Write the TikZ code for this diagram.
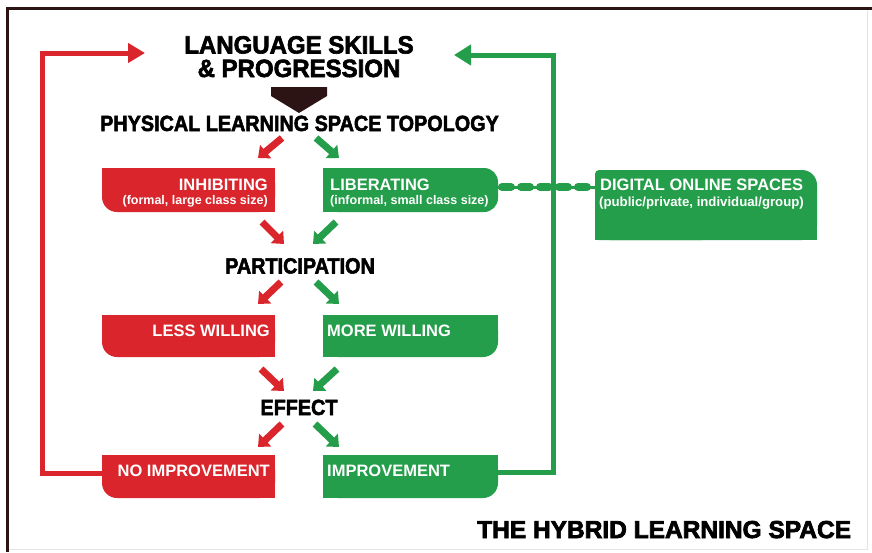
\documentclass[tikz,border=0pt]{standalone}
\usepackage{fontspec}
\setmainfont{Liberation Sans}
\newfontfamily\headfont[FakeBold=2.4,FakeStretch=0.9]{Liberation Sans}
\newfontfamily\titlefont[FakeBold=2.4,FakeStretch=0.96]{Liberation Sans}
\newfontfamily\hybridfont[FakeBold=3]{Liberation Sans}
\usetikzlibrary{arrows.meta}
\definecolor{redc}{RGB}{218,37,44}
\definecolor{greenc}{RGB}{36,158,74}
\definecolor{brownc}{RGB}{45,20,20}
\definecolor{framegray}{RGB}{228,228,228}
\tikzset{
  box/.style={inner sep=0pt, outer sep=0pt, minimum width=#1},
  headtxt/.style={inner sep=0pt, text=white, font=\bfseries\fontsize{16.5}{19}\selectfont},
  subtxt/.style={inner sep=0pt, text=white, font=\bfseries\fontsize{12.5}{15}\selectfont},
  bigtxt/.style={inner sep=0pt, font=\headfont\bfseries\fontsize{22}{26}\selectfont},
  titletxt/.style={inner sep=0pt, font=\titlefont\bfseries\fontsize{25}{29}\selectfont},
  hybridtxt/.style={inner sep=0pt, font=\hybridfont\bfseries\fontsize{24.5}{28}\selectfont},
  blockred/.style={draw=redc, line width=7pt, -{Triangle[length=10pt,width=17pt]}},
  blockgreen/.style={draw=greenc, line width=7pt, -{Triangle[length=10pt,width=17pt]}},
  loopred/.style={draw=redc, line width=5pt, line join=miter, -{Triangle[length=17pt,width=19pt]}},
  loopgreen/.style={draw=greenc, line width=5pt, line join=miter, -{Triangle[length=17pt,width=20pt]}},
}
\begin{document}
\begin{tikzpicture}[x=1pt,y=-1pt]
\useasboundingbox (0,0) rectangle (872,552);
\fill[white] (0,0) rectangle (872,552);
% frame
\draw[framegray, line width=1.2pt] (867.5,8.5) -- (867.5,549.5) -- (7.5,549.5);
\draw[brownc, line width=3pt, line join=miter] (7.5,552) -- (7.5,8.5) -- (872,8.5);

% box nodes
\node[box=173pt, minimum height=44pt] (inh) at (188.5,190) {};
\node[box=175pt, minimum height=44pt] (lib) at (410.5,190) {};
\node[box=222pt, minimum height=70pt] (dig) at (706,205) {};
\node[box=173pt, minimum height=42pt] (less) at (188.5,336) {};
\node[box=175pt, minimum height=42pt] (more) at (410.5,336) {};
\node[box=173pt, minimum height=43pt] (noimp) at (188.5,476.5) {};
\node[box=175pt, minimum height=43pt] (imp) at (410.5,476.5) {};

% fills: red boxes, only bottom-left corner rounded
\foreach \b in {inh,less,noimp}{
  \fill[redc, rounded corners=15pt] (\b.north west) rectangle (\b.south east);
  \fill[redc] (\b.north west) rectangle (\b.east);
  \fill[redc] (\b.north) rectangle (\b.south east);
}
% liberating: right side rounded
\fill[greenc, rounded corners=14pt] (lib.north west) rectangle (lib.south east);
\fill[greenc] (lib.north west) rectangle (lib.south);
% more / improvement: bottom-right rounded
\foreach \b in {more,imp}{
  \fill[greenc, rounded corners=15pt] (\b.north west) rectangle (\b.south east);
  \fill[greenc] (\b.north west) rectangle (\b.east);
  \fill[greenc] (\b.north west) rectangle (\b.south);
}
% digital: top corners rounded
\fill[greenc, rounded corners=15pt] (dig.north west) rectangle (dig.south east);
\fill[greenc, rounded corners=4pt] (dig.north west) rectangle (dig.south);
\fill[greenc] (dig.west) rectangle (dig.south east);

% box texts
\node[headtxt, anchor=base east] (inhT) at (268,190) {INHIBITING};
\node[subtxt, anchor=base east] (inhS) at (268,204) {(formal, large class size)};
\node[headtxt, anchor=base west] (libT) at (330,190) {LIBERATING};
\node[subtxt, anchor=base west] (libS) at (330,204) {(informal, small class size)};
\node[headtxt, anchor=base west] (digT) at (600,190) {DIGITAL ONLINE SPACES};
\node[subtxt, anchor=base west, font=\bfseries\fontsize{13.2}{16}\selectfont] (digS) at (599,206) {(public/private, individual/group)};
\node[headtxt, anchor=base east] (lessT) at (270,336) {LESS WILLING};
\node[headtxt, anchor=base west] (moreT) at (327,336) {MORE WILLING};
\node[headtxt, anchor=base east] (noimpT) at (270,476) {NO IMPROVEMENT};
\node[headtxt, anchor=base west] (impT) at (327,476) {IMPROVEMENT};

% headings
\node[titletxt, anchor=base] (title1) at (299,53.5) {LANGUAGE SKILLS};
\node[titletxt, anchor=base] (title2) at (299,77) {\& PROGRESSION};
\node[bigtxt, anchor=base] (topo) at (299.5,131) {PHYSICAL LEARNING SPACE TOPOLOGY};
\node[bigtxt, anchor=base] (part) at (300,273.5) {PARTICIPATION};
\node[bigtxt, anchor=base] (eff) at (299,415) {EFFECT};
\node[hybridtxt, anchor=base west] (hybrid) at (477,538) {THE HYBRID LEARNING SPACE};

% brown pentagon arrow
\fill[brownc] (271,87) -- (327,87) -- (327,96) -- (299,113) -- (271,96) -- cycle;

% small block arrows
\coordinate (r1a) at (282,138); \coordinate (r1b) at (258,158);
\coordinate (g1a) at (316,138); \coordinate (g1b) at (339,158);
\coordinate (r2a) at (262,222); \coordinate (r2b) at (284,244);
\coordinate (g2a) at (336,222); \coordinate (g2b) at (313,244);
\coordinate (r3a) at (281,282); \coordinate (r3b) at (258,304);
\coordinate (g3a) at (316,282); \coordinate (g3b) at (339,304);
\coordinate (r4a) at (261,369); \coordinate (r4b) at (284,391);
\coordinate (g4a) at (337,369); \coordinate (g4b) at (313,391);
\coordinate (r5a) at (282,424); \coordinate (r5b) at (258,447);
\coordinate (g5a) at (315,424); \coordinate (g5b) at (339,447);
\foreach \i in {1,...,5}{
  \draw[blockred] (r\i a) -- (r\i b);
  \draw[blockgreen] (g\i a) -- (g\i b);
}

% dashed link
\draw[greenc, line width=3pt] ([yshift=3pt]lib.east) -- ([yshift=3pt]lib.east -| dig.west);
\draw[greenc, line width=8pt, line cap=round, dash pattern=on 9pt off 10pt, dash phase=-4pt] ([yshift=3pt]lib.east) -- ([yshift=3pt]lib.east -| dig.west);

% loops
\coordinate (redtip) at (145,53);
\coordinate (greentip) at (454,55);
\draw[loopred] ([yshift=3.5pt]noimp.west) -- ++(-60,0) |- (redtip);
\draw[loopgreen] ([yshift=4pt]imp.east) -- ++(55,0) |- (greentip);
\end{tikzpicture}
\end{document}
